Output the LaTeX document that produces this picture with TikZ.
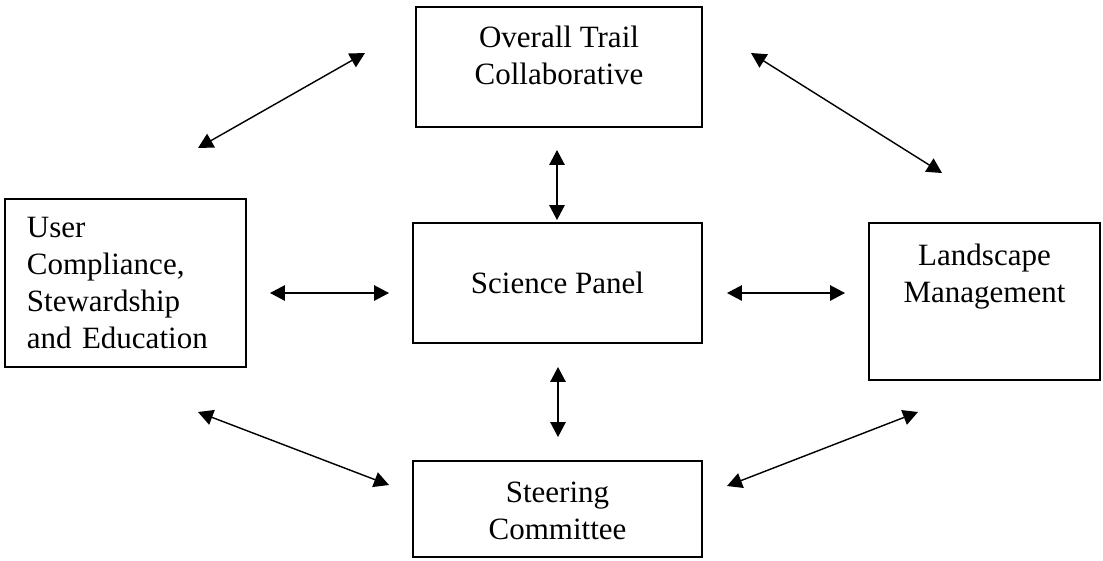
\documentclass[tikz,border=0pt]{standalone}
\usepackage{fontspec}
\setmainfont{Liberation Serif}
\usetikzlibrary{arrows.meta}

\begin{document}
\begin{tikzpicture}[x=0.387pt, y=-0.387pt,
		box/.style={draw, rectangle, line width=0.8pt, inner sep=0pt},
		caption/.style={align=center, inner sep=0pt, font=\fontsize{12}{14.3}\selectfont},
		link/.style={{Triangle[length=5.8pt,width=6pt]}-{Triangle[length=5.8pt,width=6pt]}, line width=0.55pt}]
		\useasboundingbox (0,0) rectangle (1103,560);

		\node (collab) [box, minimum width=110.7pt, minimum height=46.4pt] at (559,67) {};
		\node (science) [box, caption, minimum width=111.8pt, minimum height=46.4pt] at (557.5,283) {Science Panel};
		\node (user) [box, minimum width=93.3pt, minimum height=65pt, inner xsep=8.5pt, text width=76.3pt, align=left, font=\fontsize{12}{14.3}\selectfont] at (125.5,283) {User\\Compliance,\\Stewardship\\and Education};
		\node (landscape) [box, minimum width=89.4pt, minimum height=60.8pt] at (984.5,301.5) {};
		\node (steering) [box, minimum width=111.8pt, minimum height=37.2pt] at (557.5,509) {};

		\node (collabtext) [caption, anchor=north] at ([yshift=-7.7pt]collab.north) {Overall Trail\\Collaborative};
		\node (landscapetext) [caption, anchor=north] at ([yshift=-8.3pt]landscape.north) {Landscape\\Management};
		\node (steeringtext) [caption, anchor=north] at ([yshift=-8.3pt]steering.north) {Steering\\Committee};

		% arrow ends
		\coordinate (tl1) at (198,148);
		\coordinate (tl2) at (365,53);
		\coordinate (tr1) at (751,53);
		\coordinate (tr2) at (942,173);
		\coordinate (tc1) at (557,150);
		\coordinate (tc2) at (557,220);
		\coordinate (ml1) at (270,293);
		\coordinate (ml2) at (389,293);
		\coordinate (mr1) at (727,293);
		\coordinate (mr2) at (845,293);
		\coordinate (bc1) at (558,367);
		\coordinate (bc2) at (558,437);
		\coordinate (bl1) at (198,412);
		\coordinate (bl2) at (389,485);
		\coordinate (br1) at (727,486);
		\coordinate (br2) at (918,412);

		\draw [link] (tl1) -- (tl2);
		\draw [link] (tr1) -- (tr2);
		\draw [link] (tc1) -- (tc2);
		\draw [link] (ml1) -- (ml2);
		\draw [link] (mr1) -- (mr2);
		\draw [link] (bc1) -- (bc2);
		\draw [link] (bl1) -- (bl2);
		\draw [link] (br1) -- (br2);
	\end{tikzpicture}
\end{document}
